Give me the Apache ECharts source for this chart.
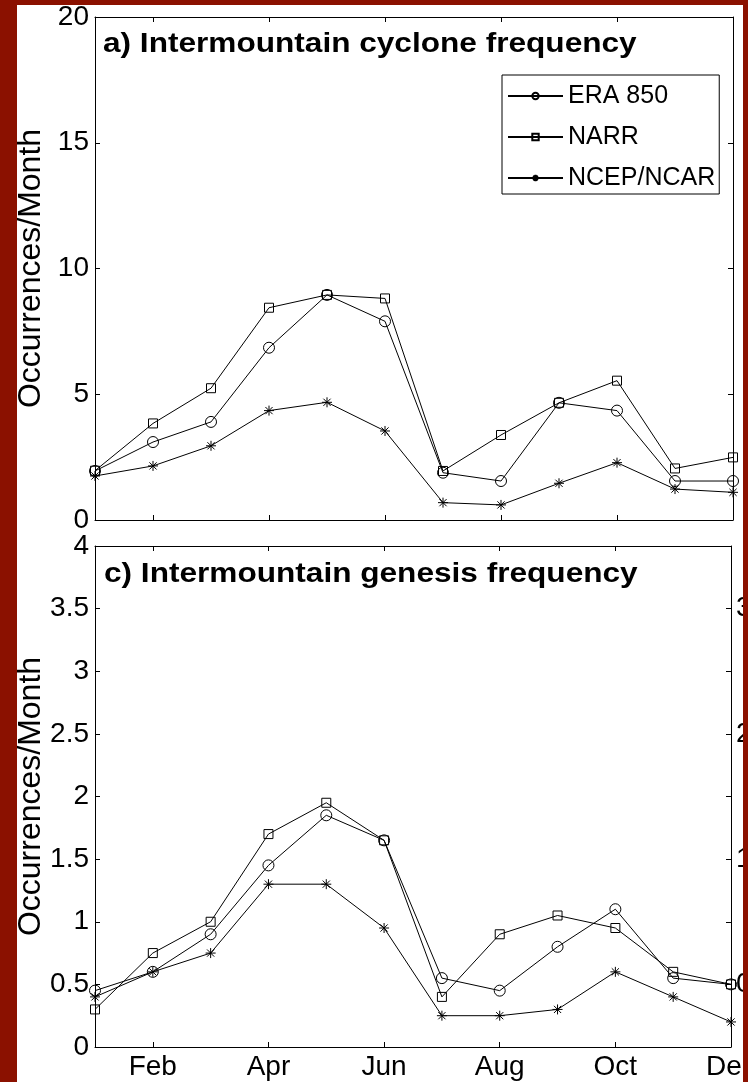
<!DOCTYPE html>
<html><head><meta charset="utf-8">
<script src="https://cdn.jsdelivr.net/npm/echarts@6/dist/echarts.min.js"></script>
<style>html,body{margin:0;padding:0;background:#fff}#c{width:748px;height:1082px}</style>
</head><body><div id="c"></div>
<script>
// ---- data ----
const months = ['Jan','Feb','Mar','Apr','May','Jun','Jul','Aug','Sep','Oct','Nov','Dec'];
const seriesNames = ['ERA 850','NARR','NCEP/NCAR'];
const cycloneERA  = [1.95,3.10,3.90,6.85,8.95,7.90,1.88,1.55,4.66,4.35,1.55,1.55];
const cycloneNARR = [1.96,3.84,5.24,8.44,8.95,8.81,1.95,3.38,4.66,5.54,2.05,2.49];
const cycloneNCEP = [1.75,2.15,2.95,4.35,4.68,3.54,0.69,0.60,1.46,2.28,1.23,1.10];
const genesisERA  = [0.45,0.60,0.90,1.45,1.85,1.65,0.55,0.45,0.80,1.10,0.55,0.50];
const genesisNARR = [0.30,0.75,1.00,1.70,1.95,1.65,0.40,0.90,1.05,0.95,0.60,0.50];
const genesisNCEP = [0.40,0.60,0.75,1.30,1.30,0.95,0.25,0.25,0.30,0.60,0.40,0.20];
const titleA = 'a) Intermountain cyclone frequency';
const titleC = 'c) Intermountain genesis frequency';
const yName = 'Occurrences/Month';

// ---- style ----
const FONT = '"Liberation Sans", Arial, Helvetica, sans-serif';
const RED = '#8b1100';
const ASTERISK = 'path://M0,-1L0,1M-1,0L1,0M-0.72,-0.72L0.72,0.72M-0.72,0.72L0.72,-0.72';
const symbols = [
  {symbol:'circle', size:11},
  {symbol:'rect', size:9},
  {symbol:ASTERISK, size:10}
];
const oddTick = function (idx) { return idx % 2 === 1; };

function xAxes(gridIndex, showLabels) {
  const base = {
    type:'category', data: months, boundaryGap:false, gridIndex,
    axisLine:{show:true, onZero:false, lineStyle:{color:'#000', width:1}},
    axisTick:{show:true, inside:true, length:5, interval: oddTick, lineStyle:{color:'#000'}},
    splitLine:{show:false}
  };
  return [
    Object.assign({}, base, {position:'bottom',
      axisLabel:{show:showLabels, interval: oddTick, margin:6, color:'#000', fontSize:28, fontFamily:FONT}}),
    Object.assign({}, base, {position:'top', axisLabel:{show:false}})
  ];
}
function yAxes(gridIndex, max, interval, rightLabels) {
  const base = {
    type:'value', min:0, max, interval, gridIndex,
    axisLine:{show:true, lineStyle:{color:'#000', width:1}},
    axisTick:{show:true, inside:true, length:5, lineStyle:{color:'#000'}},
    splitLine:{show:false}
  };
  return [
    Object.assign({}, base, {position:'left',
      name: yName, nameLocation:'middle', nameGap:48, nameRotate:90, nameMoveOverlap:false,
      nameTextStyle:{color:'#000', fontSize:32, fontFamily:FONT},
      axisLabel:{show:true, margin:6, color:'#000', fontSize:28, fontFamily:FONT}}),
    Object.assign({}, base, {position:'right',
      axisLabel:{show:rightLabels, margin:5, color:'#000', fontSize:28, fontFamily:FONT,
        formatter: function (v) { return (Math.abs(v % 1 - 0.5) < 1e-9) ? String(v) : ''; }}})
  ];
}
function makeSeries(values, k, xi, yi) {
  return {
    type:'line', name: seriesNames[k], data: values, xAxisIndex: xi, yAxisIndex: yi,
    symbol: symbols[k].symbol, symbolSize: symbols[k].size, showAllSymbol:true,
    lineStyle:{color:'#000', width:1},
    itemStyle:{color:'rgba(255,255,255,0)', borderColor:'#000', borderWidth:1},
    emphasis:{disabled:true}, animation:false, z:3
  };
}

const chart = echarts.init(document.getElementById('c'), null, {renderer:'canvas'});
chart.setOption({
  backgroundColor:'#fff',
  animation:false,
  grid:[
    {left:95, top:17, width:638, height:503, outerBoundsMode:'none', containLabel:false},
    {left:95, top:546, width:636, height:501, outerBoundsMode:'none', containLabel:false}
  ],
  xAxis: xAxes(0, false).concat(xAxes(1, true)),
  yAxis: yAxes(0, 20, 5, false).concat(yAxes(1, 4, 0.5, true)),
  legend:{
    data: seriesNames, left:502, top:75, orient:'vertical',
    padding:[7,4,2,5], itemGap:13, itemWidth:55, itemHeight:8,
    borderColor:'#000', borderWidth:1, backgroundColor:'#fff',
    selectedMode:false,
    textStyle:{color:'#000', fontSize:25, lineHeight:28, fontFamily:FONT}
  },
  series:[
    makeSeries(cycloneERA, 0, 0, 0),
    makeSeries(cycloneNARR, 1, 0, 0),
    makeSeries(cycloneNCEP, 2, 0, 0),
    makeSeries(genesisERA, 0, 2, 2),
    makeSeries(genesisNARR, 1, 2, 2),
    makeSeries(genesisNCEP, 2, 2, 2)
  ],
  graphic:[
    {type:'text', x:103, y:45, scaleX:1.17, z:50,
      style:{x:0, y:0, text:titleA, font:'bold 27px ' + FONT, fill:'#000', align:'left', verticalAlign:'middle'}},
    {type:'text', x:104, y:575, scaleX:1.17, z:50,
      style:{x:0, y:0, text:titleC, font:'bold 27px ' + FONT, fill:'#000', align:'left', verticalAlign:'middle'}},
    {type:'rect', z:100, shape:{x:0, y:0, width:17, height:1082}, style:{fill:RED}},
    {type:'rect', z:100, shape:{x:0, y:0, width:748, height:5}, style:{fill:RED}},
    {type:'rect', z:100, shape:{x:743, y:0, width:5, height:1082}, style:{fill:RED}}
  ]
});
</script>
</body></html>
